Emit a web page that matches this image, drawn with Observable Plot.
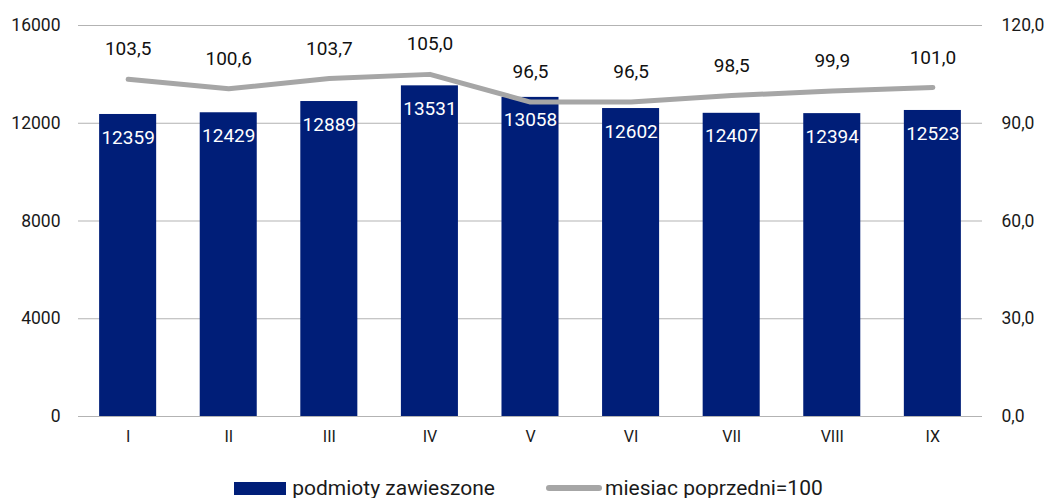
<!DOCTYPE html>
<html><head><meta charset="utf-8">
<script src="https://cdn.jsdelivr.net/npm/d3@7"></script>
<script src="https://cdn.jsdelivr.net/npm/@observablehq/plot@0.6"></script>
<style>
html,body{margin:0;background:#fff;font-family:Roboto,"Noto Sans",sans-serif;overflow:hidden}
#chart svg{display:block}
#legend{position:absolute;left:0;top:475px;width:1045px;display:flex;justify-content:center;align-items:center;font-size:21px;line-height:26px;height:26px;color:#1a1a1a;padding-left:12px;box-sizing:border-box}
.item{display:flex;align-items:center}
.sw{width:52px;height:13px;background:#001E78;margin-right:6px}
.ln{width:56px;height:6px;background:#A6A6A6;border-radius:3px;margin-right:3px;margin-left:51px}
</style></head><body>
<div id="chart"></div>
<div id="legend"><div class="item"><div class="sw"></div>podmioty zawieszone</div><div class="item"><div class="ln"></div>miesiac poprzedni=100</div></div>
<script>
const months = ["I","II","III","IV","V","VI","VII","VIII","IX"];
const suspended = [12359,12429,12889,13531,13058,12602,12407,12394,12523];
const prevMonth = [103.5,100.6,103.7,105.0,96.5,96.5,98.5,99.9,101.0];
const leftTicks = [0,4000,8000,12000,16000];
const rightTicks = [0,30,60,90,120];
const leftMax = 16000, rightMax = 120;
const k = leftMax / rightMax;

const bars = months.map((m,i)=>({m, v: suspended[i]}));
const line = months.map((m,i)=>({m, r: prevMonth[i], v: prevMonth[i]*k}));
const fmt1 = d => d.toFixed(1).replace(".", ",");

const chart = Plot.plot({
  width: 1045, height: 460,
  marginLeft: 78, marginRight: 63, marginTop: 25, marginBottom: 44,
  style: {fontFamily: "Roboto, 'Noto Sans', sans-serif", fontSize: "17px", color: "#1a1a1a"},
  x: {domain: months, paddingInner: 0.433, paddingOuter: 0.21, round: false, label: null},
  y: {domain: [0, leftMax], label: null},
  marks: [
    Plot.ruleY(leftTicks, {stroke: "#b3b3b3", strokeWidth: 1}),
    Plot.barY(bars, {x: "m", y: "v", fill: "#001E78"}),
    Plot.line(line, {x: "m", y: "v", stroke: "#A6A6A6", strokeWidth: 5, strokeLinecap: "round", strokeLinejoin: "round"}),
    Plot.text(line, {x: "m", y: "v", text: d => fmt1(d.r), dy: -30, fontSize: 19, fill: "#111"}),
    Plot.text(bars, {x: "m", y: "v", text: d => String(d.v), dy: 23, fontSize: 19, fill: "#fff"}),
    Plot.axisX({tickSize: 0, tickPadding: 14, fontSize: 16, label: null}),
    Plot.axisY({ticks: leftTicks, tickSize: 0, tickPadding: 18, tickFormat: d => String(d), fontSize: 17.5, label: null}),
    Plot.axisY({anchor: "right", ticks: rightTicks.map(t => t*k), tickSize: 0, tickPadding: 19, tickFormat: d => fmt1(d/k), fontSize: 17.5, label: null})
  ]
});
document.getElementById("chart").appendChild(chart);
</script>
</body></html>
